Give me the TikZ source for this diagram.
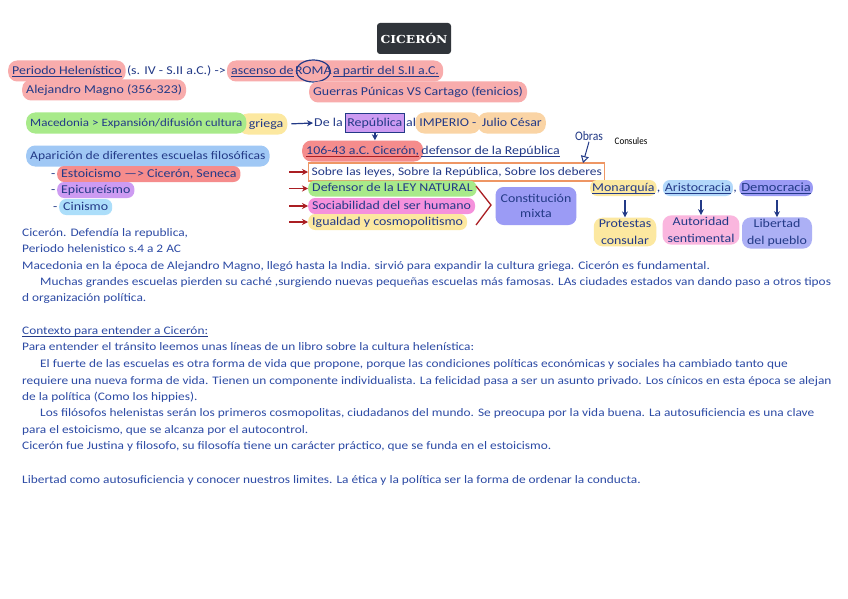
\documentclass[tikz,border=0pt]{standalone}
\usepackage{fontspec}
\setmainfont{Carlito}[FakeStretch=1.16]
\newfontfamily\titlefont{DejaVu Serif}[FakeStretch=1.12]
\newfontfamily\handfont{Carlito}[FakeStretch=0.9]
\usetikzlibrary{arrows.meta,shapes.geometric,fit,backgrounds}
\definecolor{navy}{RGB}{35,58,135}
\definecolor{bodyblue}{RGB}{45,75,165}
\definecolor{darkred}{RGB}{170,30,35}
\definecolor{hpink}{RGB}{248,172,172}
\definecolor{hred}{RGB}{245,140,140}
\definecolor{hgreen}{RGB}{168,234,138}
\definecolor{hyellow}{RGB}{252,232,160}
\definecolor{hblue}{RGB}{160,200,245}
\definecolor{hpurple}{RGB}{205,155,242}
\definecolor{hcyan}{RGB}{172,222,250}
\definecolor{horange}{RGB}{250,212,165}
\definecolor{hmagenta}{RGB}{245,145,220}
\definecolor{hlav}{RGB}{155,155,245}
\definecolor{hlblue}{RGB}{178,216,250}
\definecolor{hpinkl}{RGB}{250,182,222}
\definecolor{hlib}{RGB}{172,176,245}
\definecolor{boxorange}{RGB}{238,150,100}
\definecolor{titlegray}{RGB}{48,52,58}
\newcommand\redul[1]{\setbox0\hbox{#1}\rlap{\textcolor{darkred}{\rule[-2.8pt]{\wd0}{1.5pt}}}\box0}
\newcommand\bul[1]{\setbox0\hbox{#1}\rlap{\textcolor{navy}{\rule[-2.2pt]{\wd0}{0.7pt}}}\box0}
\begin{document}
\begin{tikzpicture}[x=1pt,y=-1pt,
  hl/.style={rounded corners=9pt, inner xsep=4pt, inner ysep=2pt, minimum height=21pt, text=navy, font=\fontsize{12}{14}\selectfont, anchor=west, text height=9pt, text depth=2.5pt},
  sm/.style={minimum height=16pt, rounded corners=7pt},
  lab/.style={inner xsep=1pt, inner ysep=2pt, text=navy, font=\fontsize{12}{14}\selectfont, anchor=west, text height=9pt, text depth=2.5pt},
  body/.style={inner sep=0pt, text=bodyblue, font=\fontsize{11.5}{13}\selectfont, anchor=west, text height=8.5pt, text depth=2.5pt},
  barrow/.style={draw=navy, line width=1.2pt, -{Stealth[length=6pt,width=6pt]}},
  rarrow/.style={draw=darkred, line width=1.2pt, -{Stealth[length=6pt,width=6pt]}},
  stack/.style={rounded corners=9pt, inner xsep=5pt, inner ysep=2pt, text=navy, font=\fontsize{12}{17}\selectfont, align=center}
]
\useasboundingbox (0,0) rectangle (848,599);
\begin{scope}[on background layer]
\fill[white] (0,0) rectangle (848,599);
\end{scope}

% title
\node[fill=titlegray, rounded corners=3pt, minimum width=74pt, minimum height=31pt, text=white, font=\titlefont\bfseries\fontsize{11}{12}\selectfont] (title) at (414,38.5) {CICERÓN};

% row 1
\node[hl, fill=hpink] (per) at (8,71) {\bul{Periodo Helenístico}};
\node[lab] (siv) at (per.east) {(s. IV - S.II a.C.) ->};
\node[lab, inner xsep=0pt] (asc1) at ([xshift=4pt]siv.east) {\bul{ascenso de}};
\node[lab, inner xsep=1pt] (roma) at (asc1.east) {ROMA};
\draw[navy, line width=1.2pt] (roma.center) ellipse [x radius=17pt, y radius=11pt];
\node[lab, inner xsep=0pt] (asc2) at (roma.east) {\bul{a partir del S.II a.C.}};
\begin{scope}[on background layer]
\node[fill=hpink, rounded corners=9pt, inner xsep=4pt, inner ysep=0pt, minimum height=21pt, fit=(asc1)(asc2)] (ascbg) {};
\end{scope}
\node[hl, fill=hpink] (alej) at (22,90) {Alejandro Magno (356-323)};
\node[hl, fill=hpink] (guer) at (309,92) {Guerras Púnicas VS Cartago (fenicios)};

% macedonia row
\node[hl, fill=hgreen, font=\fontsize{11.2}{13}\selectfont] (mac) at (26,123) {Macedonia > Expansión/difusión cultura};
\begin{scope}[on background layer]
\node[hl, fill=hyellow] (gri) at ([xshift=-8pt,yshift=-1pt]mac.east) {\hspace*{6pt}griega};
\end{scope}
\node[lab] (dela) at (313,123) {De la};
\node[lab, fill=hpurple, draw=navy, line width=1pt, inner xsep=2pt, minimum height=19pt] (rep) at ([xshift=1pt]dela.east) {República};
\node[lab] (al) at (rep.east) {al};
\node[hl, fill=horange] (imp) at ([xshift=-2pt]al.east) {IMPERIO -};
\node[hl, fill=horange] (jul) at ([xshift=-3pt]imp.east) {Julio César};
\draw[barrow, shorten <=4pt] (gri.east) -- (dela.west);

% escuelas
\node[hl, fill=hblue, font=\fontsize{11.7}{14}\selectfont] (apa) at (26,156) {Aparición de diferentes escuelas filosóficas};
\node[lab] (d1) at (50,174) {-};
\node[hl, sm, fill=hred] (est) at (57,174) {Estoicismo —> Cicerón, Seneca};
\node[lab] (d2) at (50,190) {-};
\node[hl, sm, fill=hpurple] (epi) at (57,190) {Epicureísmo};
\node[lab] (d3) at (52,207) {-};
\node[hl, sm, fill=hcyan] (cin) at (59,207) {Cinismo};

% Ciceron
\node[hl, fill=hred] (cic) at (302,151) {\redul{106-43 a.C. Cicerón,}};
\node[lab] (def) at ([xshift=-3pt]cic.east) {\bul{defensor de la República}};
\draw[barrow] (rep.south) -- (rep.south |- cic.north);

\node[lab, draw=boxorange, line width=1.2pt, fill=white, inner xsep=3pt, minimum height=18pt, font=\fontsize{11.6}{14}\selectfont] (obr) at (308,172) {Sobre las leyes, Sobre la República, Sobre los deberes};
\node[hl, sm, fill=hgreen] (ley) at (308,188.5) {Defensor de la LEY NATURAL};
\node[hl, sm, fill=hmagenta] (soc) at (308,206) {Sociabilidad del ser humano};
\node[hl, sm, fill=hyellow] (igu) at (308,222) {Igualdad y cosmopolitismo};
\coordinate (r1) at (289,172);
\coordinate (r2) at (289,188.5);
\coordinate (r3) at (289,206);
\coordinate (r4) at (289,222);
\draw[rarrow] (r1) -- (obr.west);
\draw[rarrow] (r2) -- (ley.west);
\draw[rarrow] (r3) -- (soc.west);
\draw[rarrow] (r4) -- (igu.west);
\draw[darkred, line width=1.3pt] (476,186) -- (491,205) -- (476,225);
\node[stack, fill=hlav, rounded corners=8pt, minimum width=80pt, minimum height=38pt, font=\fontsize{12}{15}\selectfont] (cmix) at (536,206) {Constitución\\mixta};

% obras
\node[text=navy, font=\handfont\fontsize{13}{14}\selectfont, inner sep=1pt] (obras) at (589,136) {Obras};
\node[text=black, font=\handfont\fontsize{10}{11}\selectfont, inner sep=1pt] (cons) at (631,141) {Consules};
\coordinate (otip) at (583,163);
\draw[navy, line width=1pt, -{Triangle[open,length=7pt,width=8pt]}] (obras.south) -- (otip);

% forms of government
\node[hl, sm, fill=hyellow, inner xsep=2pt] (mon) at (590,188) {\bul{Monarquía}};
\node[lab, inner xsep=0pt] (c1) at (mon.east) {,};
\node[hl, sm, fill=hlblue, inner xsep=2pt] (ari) at ([xshift=2pt]c1.east) {\bul{Aristocracia}};
\node[lab, inner xsep=0pt] (c2) at (ari.east) {,};
\node[hl, sm, fill=hlav, inner xsep=2pt, font=\fontsize{12.5}{14}\selectfont] (dem) at ([xshift=2pt]c2.east) {\bul{Democracia}};
\node[stack, fill=hyellow] (pro) at (625,232) {Protestas\\consular};
\node[stack, fill=hpinkl] (aut) at (701,230) {Autoridad\\sentimental};
\node[stack, fill=hlib] (lib) at (777,233) {Libertad\\del pueblo};
\draw[barrow] (pro.north |- mon.south) ++(0,4) -- (pro.north);
\draw[barrow] (aut.north |- ari.south) ++(0,4) -- (aut.north);
\draw[barrow] (lib.north |- dem.south) ++(0,4) -- (lib.north);

% body text
\node[body] (b1) at (22,233) {Cicerón. Defendía la republica,};
\node[body] (b2) at (22,249) {Periodo helenistico s.4 a 2 AC};
\node[body] (b3) at (22,266) {Macedonia en la época de Alejandro Magno, llegó hasta la India. sirvió para expandir la cultura griega. Cicerón es fundamental.};
\node[body] (b4) at (40,282) {Muchas grandes escuelas pierden su caché ,surgiendo nuevas pequeñas escuelas más famosas. LAs ciudades estados van dando paso a otros tipos};
\node[body] (b5) at (22,298) {d organización política.};
\node[body] (b6) at (22,331) {\bul{Contexto para entender a Cicerón:}};
\node[body] (b7) at (22,347) {Para entender el tránsito leemos unas líneas de un libro sobre la cultura helenística:};
\node[body] (b8) at (40,364) {El fuerte de las escuelas es otra forma de vida que propone, porque las condiciones políticas económicas y sociales ha cambiado tanto que};
\node[body] (b9) at (22,381) {requiere una nueva forma de vida. Tienen un componente individualista. La felicidad pasa a ser un asunto privado. Los cínicos en esta época se alejan};
\node[body] (b10) at (22,397) {de la política (Como los hippies).};
\node[body] (b11) at (40,413) {Los filósofos helenistas serán los primeros cosmopolitas, ciudadanos del mundo. Se preocupa por la vida buena. La autosuficiencia es una clave};
\node[body] (b12) at (22,430) {para el estoicismo, que se alcanza por el autocontrol.};
\node[body] (b13) at (22,446) {Cicerón fue Justina y filosofo, su filosofía tiene un carácter práctico, que se funda en el estoicismo.};
\node[body] (b14) at (22,480) {Libertad como autosuficiencia y conocer nuestros limites. La ética y la política ser la forma de ordenar la conducta.};
\end{tikzpicture}
\end{document}
